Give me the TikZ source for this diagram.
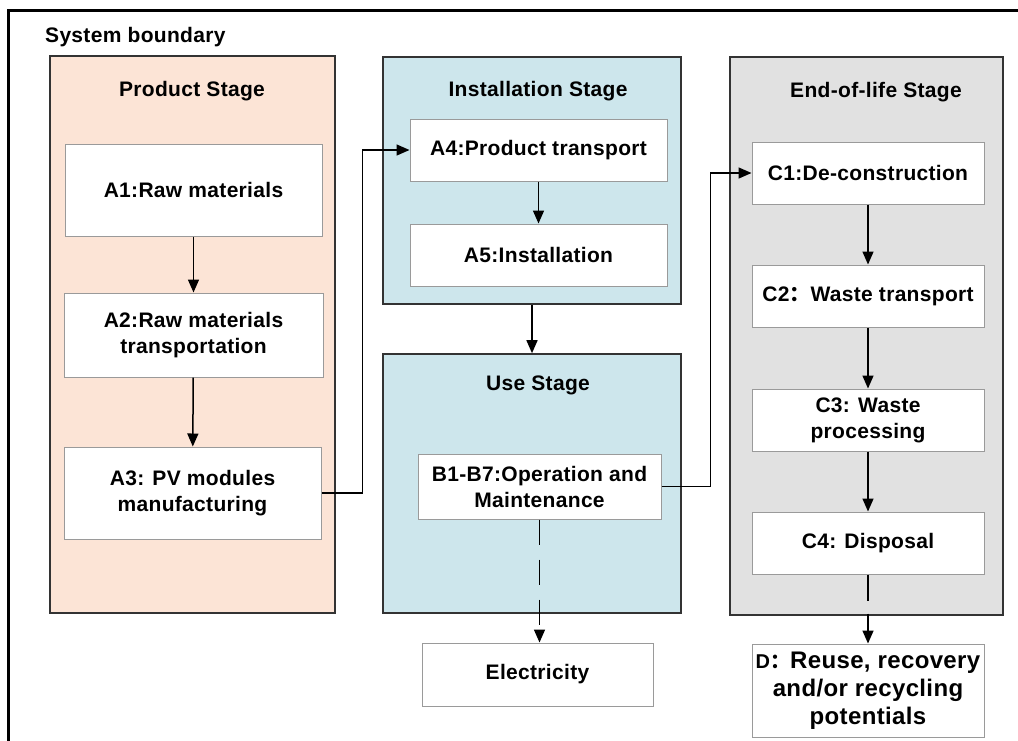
\documentclass[tikz,border=0pt]{standalone}
\usepackage{fontspec}
\setmainfont{Liberation Sans}[LetterSpace=1.5]
\newfontfamily\cjk{Noto Sans CJK SC}
\usetikzlibrary{arrows.meta}
\definecolor{peach}{HTML}{FCE4D6}
\definecolor{lblue}{HTML}{CDE6EC}
\definecolor{lgray}{HTML}{E1E1E1}
\definecolor{inborder}{HTML}{9A9A9A}
\definecolor{stborder}{HTML}{333333}
\tikzset{
  inbox/.style={draw=inborder, line width=1pt, fill=white, inner sep=0pt, align=center,
    font=\fontsize{21}{26}\selectfont\bfseries},
  stagebox/.style={draw=stborder, line width=1.6pt, inner sep=0pt},
  title/.style={font=\fontsize{21}{24}\selectfont\bfseries, inner sep=0pt},
  arr/.style={line width=1.5pt, -{Triangle[length=13pt,width=11pt]}},
  longdash/.style={dash pattern=on 25pt off 15pt}
}
\begin{document}
\begin{tikzpicture}[x=1pt,y=-1pt]
\useasboundingbox (0,0) rectangle (1018,740);
\fill[white] (0,0) rectangle (1018,740);
% outer system boundary
\draw[line width=3pt] (8,10) rectangle (1040,770);
\node[title, anchor=west] (sb) at (45,37) {System boundary};

% stage boxes
\node[stagebox, fill=peach, minimum width=285pt, minimum height=557pt] (prod) at (192.5,334.5) {};
\node[stagebox, fill=lblue, minimum width=298pt, minimum height=247pt] (inst) at (532,180.5) {};
\node[stagebox, fill=lblue, minimum width=298pt, minimum height=259pt] (use) at (532,483.5) {};
\node[stagebox, fill=lgray, minimum width=273pt, minimum height=558pt] (eol) at (866.5,336) {};

\node[title] (tprod) at (192,91) {Product Stage};
\node[title] (tinst) at (538,91) {Installation Stage};
\node[title] (tuse) at (538,385) {Use Stage};
\node[title] (teol) at (876,92) {End-of-life Stage};

% product stage
\node[inbox, minimum width=257pt, minimum height=92pt] (a1) at (193.5,190) {A1:Raw materials};
\node[inbox, minimum width=259pt, minimum height=84pt] (a2) at (193.5,335) {A2:Raw materials\\transportation};
\node[inbox, minimum width=257pt, minimum height=92pt] (a3) at (192.5,493) {A3: PV modules\\manufacturing};

% installation stage
\node[inbox, minimum width=257pt, minimum height=62pt] (a4) at (538.5,150) {A4:Product transport};
\node[inbox, minimum width=257pt, minimum height=62pt] (a5) at (538.5,255) {A5:Installation};

% use stage
\node[inbox, minimum width=243pt, minimum height=65pt] (b) at (539.5,486.5) {B1-B7:Operation and\\Maintenance};
\node[inbox, minimum width=231pt, minimum height=63pt] (elec) at (537.5,674.5) {Electricity};

% end-of-life stage
\node[inbox, minimum width=232pt, minimum height=62pt] (c1) at (868,173) {C1:De-construction};
\node[inbox, minimum width=232pt, minimum height=62pt] (c2) at (868,296) {C2{\cjk ：}Waste transport};
\node[inbox, minimum width=232pt, minimum height=62pt] (c3) at (868,420) {C3: Waste\\processing};
\node[inbox, minimum width=232pt, minimum height=62pt] (c4) at (868,543) {C4: Disposal};
\node[inbox, minimum width=232pt, minimum height=93pt, font=\fontsize{24}{28}\selectfont\bfseries] (d) at (868,690.5)
  {{\fontsize{20}{28}\selectfont D{\cjk ：}}Reuse, recovery\\and/or recycling\\potentials};

% connectors
\draw[arr] (a1) -- (a2);
\draw[arr] (a2) -- (a3);
\draw[arr] (a3.east) -- ++(41,0) |- (a4.west);
\draw[arr] (a4) -- (a5);
\draw[arr] (inst) -- (use);
\draw[arr, longdash] (b.south) -- (b.south |- elec.north);
\draw[arr] (b.east) -- ++(49,0) |- (c1.west);
\draw[arr] (c1) -- (c2);
\draw[arr] (c2) -- (c3);
\draw[arr] (c3) -- (c4);
\draw[arr, dash pattern=on 26pt off 13pt] (c4) -- (d);
\end{tikzpicture}
\end{document}
